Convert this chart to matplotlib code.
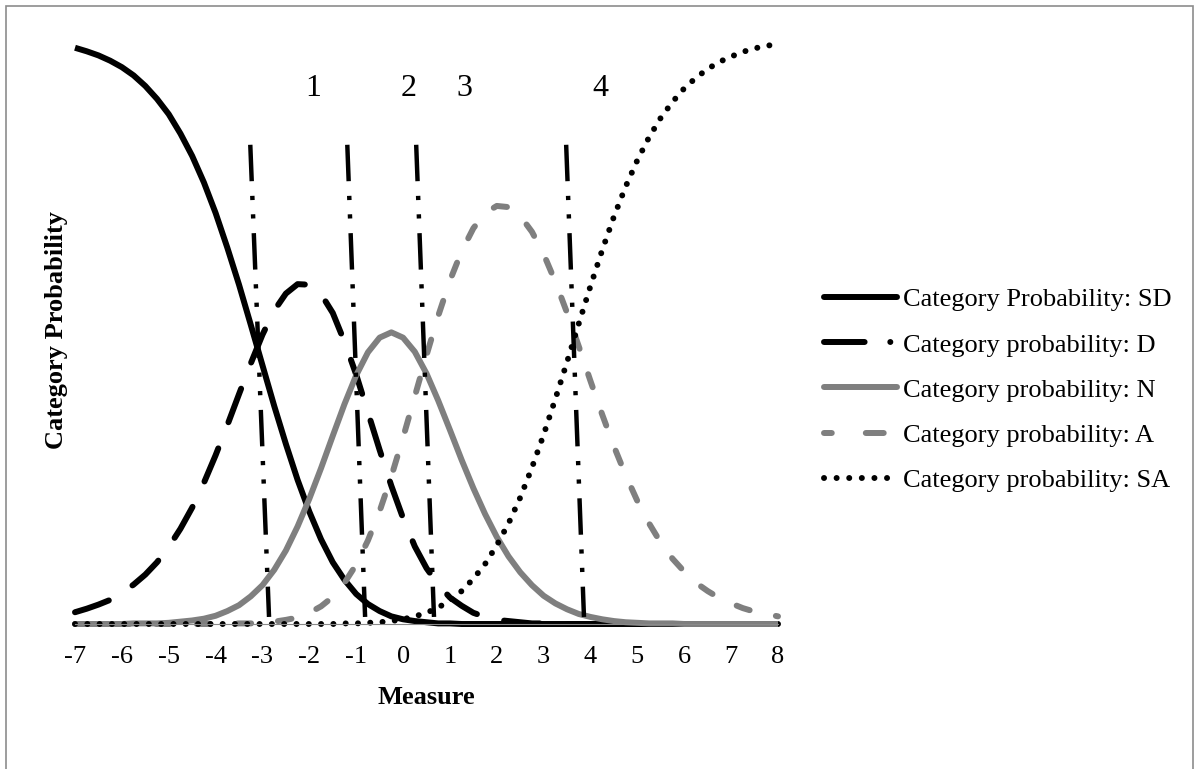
import numpy as np
import matplotlib
matplotlib.use("Agg")
import matplotlib.pyplot as plt
from matplotlib.lines import Line2D
from matplotlib.patches import Rectangle

plt.rcParams['font.family'] = ['Liberation Serif', 'DejaVu Serif']

# Person measure (logits), sampled every quarter logit
measure = np.arange(-7, 8.001, 0.25)

# Category probability curves
prob_sd = [.980, .974, .967, .958, .947, .933, .915, .893, .867, .834, .796, .751, .699, .640, .577,
           .509, .440, .371, .306, .245, .191, .144, .105, .075, .051, .034, .022, .013, .008, .005,
           .003, .001, .001, 0, 0, 0, 0, 0, 0, 0, 0, 0, 0, 0, 0, 0, 0, 0, 0, 0, 0, 0, 0, 0, 0, 0, 0,
           0, 0, 0, 0]
prob_d = [.020, .026, .033, .041, .053, .067, .084, .105, .131, .162, .198, .240, .287, .338, .391,
          .443, .492, .533, .562, .578, .577, .561, .529, .480, .424, .360, .296, .235, .180, .132,
          .095, .067, .045, .031, .019, .012, .007, .005, .003, .001, .001, 0, 0, 0, 0, 0, 0, 0, 0,
          0, 0, 0, 0, 0, 0, 0, 0, 0, 0, 0, 0]
prob_n = [0, 0, 0, 0, 0, .001, .001, .001, .002, .004, .006, .009, .014, .022, .032, .047, .066,
          .092, .125, .166, .213, .265, .320, .374, .423, .462, .487, .496, .487, .463, .426, .380,
          .330, .279, .231, .187, .148, .115, .088, .066, .048, .035, .025, .017, .012, .008, .005,
          .003, .002, .001, .001, .001, 0, 0, 0, 0, 0, 0, 0, 0, 0]
prob_a = [0, 0, 0, 0, 0, 0, 0, 0, 0, 0, 0, 0, 0, 0, .001, .001, .002, .004, .007, .011, .019, .030,
          .046, .070, .101, .142, .192, .251, .317, .387, .457, .524, .584, .634, .673, .699, .711,
          .709, .694, .667, .629, .582, .529, .472, .413, .356, .302, .253, .209, .171, .138, .111,
          .089, .070, .056, .044, .035, .027, .021, .017, .013]
prob_sa = [0, 0, 0, 0, 0, 0, 0, 0, 0, 0, 0, 0, 0, 0, 0, 0, 0, 0, 0, 0, 0, 0, 0, .001, .001, .002,
           .003, .005, .008, .013, .019, .028, .040, .056, .077, .102, .134, .171, .215, .266, .322,
           .383, .446, .511, .575, .636, .693, .744, .789, .828, .861, .888, .911, .929, .944, .956,
           .965, .973, .979, .983, .987]

series_labels = ['Category Probability: SD', 'Category probability: D', 'Category probability: N',
                 'Category probability: A', 'Category probability: SA']

# Threshold markers (top and bottom ends of each marker line)
threshold_names = ['1', '2', '3', '4']
threshold_top_x = [-3.26, -1.19, 0.28, 3.48]
threshold_bottom_x = [-2.86, -0.81, 0.66, 3.86]
threshold_top_y = 0.815
threshold_bottom_y = 0.012
threshold_label_x = [-1.92, 0.11, 1.31, 4.21]
threshold_label_y = 0.898

x_ticks = list(range(-7, 9))
x_tick_labels = [str(v) for v in x_ticks]

W, H = 1200, 769
fig = plt.figure(figsize=(W / 100, H / 100), dpi=100)
ax = fig.add_axes([75 / W, (H - 624) / H, 703 / W, 588 / H])

GRAY = '#7f7f7f'
LW = 4.3  # points

styles = [
    dict(color='black', lw=LW, ls='-'),
    dict(color='black', lw=LW, ls=(0, (6.0, 4.7)), dash_capstyle='round'),
    dict(color=GRAY, lw=LW, ls='-'),
    dict(color=GRAY, lw=LW, ls=(0, (2.3, 4.5)), dash_capstyle='round'),
    dict(color='black', lw=LW, ls=(0, (0.01, 2.05)), dash_capstyle='round'),
]
curves = [prob_sd, prob_d, prob_n, prob_a, prob_sa]
for yv, st in zip(curves, styles):
    ax.plot(measure, yv, clip_on=False, solid_capstyle='butt', solid_joinstyle='round', **st)

# Threshold marker lines (long dash, dot, dot)
for xt, xb in zip(threshold_top_x, threshold_bottom_x):
    ax.plot([xt, xb], [threshold_top_y, threshold_bottom_y], color='black', lw=3.2,
            ls=(0, (8.2, 3.3, 0.95, 3.2, 0.95, 3.3)), dash_capstyle='butt', clip_on=False)
for name, lx in zip(threshold_names, threshold_label_x):
    ax.text(lx, threshold_label_y, name, ha='center', va='baseline', fontsize=23)

ax.set_xlim(-7, 8)
ax.set_ylim(0, 1)
ax.set_xticks(x_ticks)
ax.set_xticklabels(x_tick_labels, fontsize=19)
ax.tick_params(axis='x', length=0, pad=16)
ax.set_yticks([])
for s in ['top', 'right', 'left']:
    ax.spines[s].set_visible(False)
ax.spines['bottom'].set_color('#8a8a8a')
ax.spines['bottom'].set_linewidth(0.8)
ax.patch.set_visible(False)

fig.text(426 / W, 1 - 697 / H, 'Measure', ha='center', va='center', fontsize=19, fontweight='bold')
fig.text(57 / W, 1 - 330 / H, 'Category Probability', ha='center', va='center', rotation=90,
         fontsize=19, fontweight='bold')

# Legend
handles = [
    Line2D([], [], color='black', lw=LW, solid_capstyle='round'),
    Line2D([], [], color='black', lw=LW, ls=(0, (6.8, 4.3, 0.01, 3)), dash_capstyle='round'),
    Line2D([], [], color=GRAY, lw=LW, solid_capstyle='round'),
    Line2D([], [], color=GRAY, lw=LW, ls=(1.7, (3.0, 5.7)), dash_capstyle='round'),
    Line2D([], [], color='black', lw=LW, ls=(0, (0.01, 2.1)), dash_capstyle='round'),
]
leg = fig.legend(handles, series_labels, loc='upper left',
                 bbox_to_anchor=(824 / W, 1 - 288 / H), frameon=False, fontsize=19,
                 handlelength=2.75, handletextpad=0.25, labelspacing=0.82,
                 borderpad=0, borderaxespad=0)

# Outer border of the chart area
fig.patches.append(Rectangle((6 / W, -0.01), (1193 - 6) / W, 1 - 6 / H + 0.01,
                             transform=fig.transFigure, fill=False, edgecolor='#8c8c8c',
                             lw=1.2))

fig.savefig('out.png', dpi=100)
